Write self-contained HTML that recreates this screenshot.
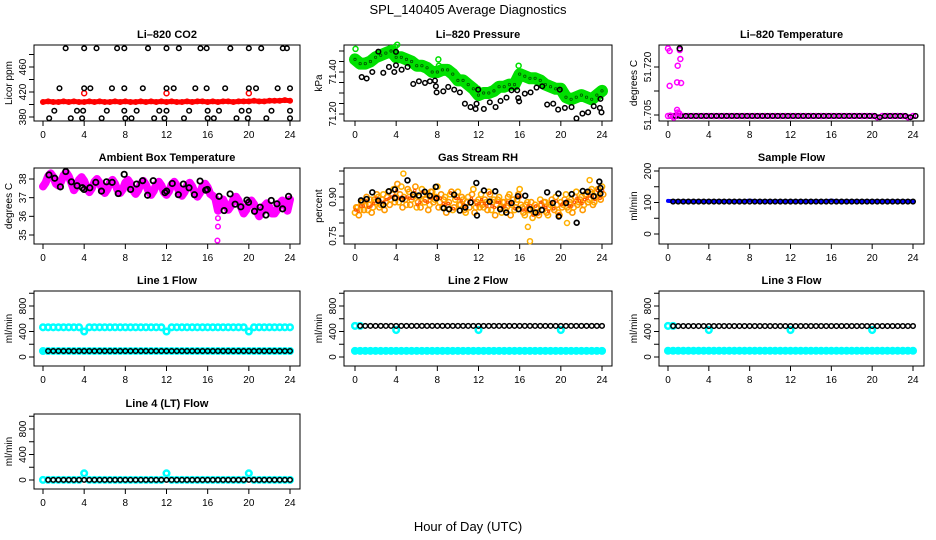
<!DOCTYPE html>
<html><head><meta charset="utf-8"><style>
html,body{margin:0;padding:0;background:#fff;}
svg{display:block;font-family:"Liberation Sans",sans-serif;}
</style></head><body>
<svg id="chart" width="936" height="540" viewBox="0 0 936 540" xmlns="http://www.w3.org/2000/svg">
<text x="468" y="14" text-anchor="middle" font-size="13">SPL_140405  Average Diagnostics</text>
<text x="468" y="531" text-anchor="middle" font-size="13">Hour of Day (UTC)</text>
</svg>
<script>
// ---------- data ----------
const xTicks=[0,4,8,12,16,20,24];
// CO2
const co2Hours=[2.2,4.0,5.2,7.2,7.9,10.2,12.0,13.2,15.3,15.9,18.2,20.0,21.2,23.3,23.7,
1.6,4.0,4.6,6.7,7.9,9.7,12.0,12.7,14.8,15.9,17.7,20.0,20.7,22.8,24.0,
1.1,3.3,3.9,6.2,7.9,9.1,11.3,12.0,14.2,16.0,17.1,19.3,20.0,22.2,24.0,
0.6,2.7,3.8,5.7,8.0,8.6,10.8,11.8,13.7,16.0,16.6,18.8,19.9,21.7,24.0];
const co2Black=[490,490,490,490,490,490,490,490,490,490,490,490,490,490,490,
426,426,426,426,426,426,426,426,426,426,426,426,426,426,426,
390,390,390,390,390,390,390,390,390,390,390,390,390,390,390,
378,378,378,378,378,378,378,378,378,378,378,378,378,378,378];
const co2Red=[404,405,404,404,405,404,405,404,404,405,404,405,404,404,405,404,405,404,404,405,404,405,404,405,404,405,404,404,405,404,405,405,404,405,404,405,405,404,405,405,405,406,405,405,406,406,406,407,406];
const co2RedOutHours=[4,12,20];
const co2RedOut=[418,418,418];
const co2Ticks=[380,400,420,440,460,480];
const co2Labels=["380","420","460"];
// Pressure
const presGreen=[71.46,71.44,71.44,71.45,71.47,71.48,71.49,71.50,71.47,71.47,71.46,71.45,71.43,71.43,71.42,71.40,71.40,71.41,71.41,71.39,71.36,71.36,71.34,71.32,71.29,71.30,71.30,71.31,71.33,71.33,71.34,71.34,71.39,71.38,71.37,71.37,71.36,71.34,71.33,71.32,71.32,71.28,71.27,71.28,71.29,71.28,71.27,71.29,71.31];
const presOutHours=[0.05,3.9,4.1,8.1,8.15,11.95,15.9];
const presOut=[71.51,71.52,71.53,71.46,71.43,71.32,71.43];
const presBlackHours=[0.65,1.13,1.68,2.27,2.75,3.3,3.82,3.98,3.98,4.53,5.11,5.66,6.21,6.8,7.28,7.77,7.86,7.93,8.58,9.06,9.64,10.19,10.68,11.23,11.72,11.81,11.97,12.52,13.1,13.66,14.14,14.72,15.21,15.76,15.86,15.95,16.5,17.06,17.64,18.19,18.67,19.26,19.74,19.9,20.39,21.04,21.52,22.1,22.65,23.2,23.79,23.85,23.95];
const presBlack=[71.376,71.369,71.400,71.497,71.396,71.424,71.400,71.496,71.432,71.411,71.424,71.343,71.356,71.348,71.356,71.359,71.332,71.303,71.308,71.329,71.316,71.303,71.249,71.233,71.224,71.249,71.316,71.224,71.256,71.233,71.262,71.278,71.313,71.313,71.276,71.260,71.297,71.303,71.326,71.332,71.245,71.249,71.221,71.316,71.229,71.233,71.179,71.202,71.208,71.237,71.229,71.272,71.208];
const presTicks=[71.20,71.25,71.30,71.35,71.40,71.45,71.50];
const presLabels=["71.20","71.40"];
// Li-820 temperature
const ltBase=[51.7047,51.7047,51.7047,51.7047,51.7047,51.7047,51.7047,51.7047,51.7047,51.7047,51.7047,51.7047,51.7047,51.7047,51.7047,51.7047,51.7047,51.7047,51.7047,51.7047,51.7047,51.7047,51.7047,51.7047,51.7047,51.7047,51.7047,51.7047,51.7047,51.7047,51.7047,51.7047,51.7047,51.7047,51.7047,51.7047,51.7047,51.7047,51.7047,51.7047,51.7047,51.7043,51.7047,51.7047,51.7047,51.7047,51.7047,51.7043,51.7047];
const ltMagHours=[0,0.16,0.16,0.89,0.95,1.15,1.21,1.28,0.89,0.23,0.56,0.95,1.1];
const ltMag=[51.7258,51.725,51.7141,51.7152,51.7204,51.7253,51.7225,51.715,51.7066,51.7048,51.7042,51.7058,51.7055];
const ltTicks=[51.705,51.7125,51.720];
const ltLabels=["51.705","51.720"];
// Ambient box temperature
const ambMag=[37.60,37.80,38.15,38.30,38.10,37.75, 37.65,37.85,38.20,38.35,38.15,37.80, 37.40,37.60,37.95,38.10,37.90,37.55, 37.30,37.50,37.85,38.00,37.80,37.45, 37.25,37.45,37.80,37.95,37.75,37.40, 37.25,37.45,37.80,37.95,37.75,37.40, 37.20,37.40,37.75,37.90,37.70,37.35, 37.15,37.35,37.70,37.85,37.65,37.30, 37.15,37.35,37.70,37.85,37.65,37.30, 37.10,37.30,37.65,37.80,37.60,37.25, 37.05,37.25,37.60,37.75,37.55,37.20, 37.10,36.95,36.30,36.60,36.90,36.60, 36.35,36.55,36.90,37.05,36.85,36.50, 36.15,36.35,36.70,36.85,36.65,36.30, 36.00,36.20,36.55,36.70,36.50,36.15, 36.15,36.35,36.70,36.85,36.65,36.30, 36.90];
const ambOutHours=[17.0,17.0,16.95];
const ambOut=[35.9,35.45,34.7];
const ambBlackHours=[0.58,1.14,1.69,2.21,2.76,3.31,3.83,3.99,4.55,5.13,5.68,6.17,6.72,7.31,7.89,8.51,9.09,9.68,10.16,10.71,11.85,12.01,12.56,13.15,13.64,14.19,14.71,15.26,15.81,15.97,17.11,17.6,18.18,18.67,19.22,19.81,19.97,20.55,21.1,21.66,22.18,22.73,23.28,23.86];
const ambBlack=[38.22,38.04,37.58,38.4,37.85,37.64,37.53,37.44,37.53,37.82,37.35,37.85,37.82,37.22,38.25,37.44,37.73,37.91,37.13,37.91,37.27,37.35,37.76,37.16,37.73,37.53,37.16,37.89,37.4,37.44,37.07,36.31,37.2,36.65,36.51,36.87,36.75,36.27,36.49,36.07,36.85,36.67,36.4,37.07];
const ambTicks=[35,36,37,38];
const ambLabels=["35","36","37","38"];
// Gas stream RH
const rhA=[.84,.86,.85,.88,.87,.85,.89,.86,.88, .90,.87,.91,.88,.92,.89,.93,.90, .88,.94,.90,.87,.92,.89,.91,.86, .90,.93,.88,.91,.87,.92,.89,.94, .88,.86,.90,.87,.91,.85,.89,.92, .87,.89,.84,.90,.88,.93,.86,.89, .91,.86,.88,.92,.85,.89,.87,.90, .84,.88,.86,.91,.87,.85,.89,.93, .86,.83,.88,.85,.82,.87,.84,.89, .85,.88,.83,.87,.86,.90,.84,.88, .87,.91,.85,.89,.86,.92,.88,.90, .87,.91,.89,.93,.88,.92,.90,.94];
const rhB=[.86,.83,.88,.85,.90,.87,.84,.89,.91, .86,.89,.85,.90,.87,.91,.88,.95, .91,.86,.89,.93,.87,.90,.94,.88, .86,.91,.89,.85,.92,.88,.90,.86, .91,.89,.84,.88,.92,.86,.90,.87, .90,.85,.88,.86,.91,.84,.88,.86, .87,.89,.85,.91,.88,.83,.89,.86, .88,.85,.90,.83,.89,.86,.91,.87, .84,.87,.85,.88,.84,.86,.83,.87, .88,.84,.86,.89,.85,.87,.83,.86, .89,.86,.88,.84,.90,.87,.89,.85, .91,.88,.92,.87,.90,.93,.89,.91];
const rhOutHours=[4.7,17.0,16.8,20.6,22.8];
const rhOut=[0.99,0.73,0.785,0.80,0.965];
const rhBlackHours=[0.58,1.13,1.68,2.26,2.75,3.29,3.88,3.88,4.59,5.10,5.65,6.2,6.78,7.27,7.85,7.91,8.62,9.14,9.63,10.18,10.72,11.24,11.79,11.85,12.53,13.08,13.63,14.11,14.7,15.21,15.83,15.89,16.54,17.02,17.54,18.15,18.67,19.22,19.77,19.8,20.51,21.06,21.54,22.13,22.61,23.19,23.74,23.84,23.84];
const rhBlack=[0.887,0.892,0.918,0.886,0.870,0.922,0.929,0.896,0.892,0.964,0.909,0.906,0.920,0.905,0.939,0.895,0.857,0.853,0.909,0.848,0.860,0.879,0.954,0.829,0.925,0.882,0.922,0.853,0.840,0.877,0.903,0.853,0.905,0.853,0.840,0.850,0.918,0.877,0.913,0.825,0.877,0.911,0.801,0.923,0.920,0.903,0.959,0.935,0.913];
const rhTicks=[0.75,0.80,0.85,0.90,0.95,1.00];
const rhLabels=["0.75","0.90"];
// Sample flow
const sfBlue=[105,104,104,104,104,104,104,104,104,104,104,104,104,104,104,104,106,104,104,104,104,104,104,104,104,104,104,104,104,104,104,104,106,104,104,104,104,104,104,104,104,104,104,104,104,104,104,104,104];
const sfBlack=[null,103,103,103,103,103,103,103,103,103,103,103,103,103,103,103,103,103,103,103,103,103,103,103,103,103,103,103,103,103,103,103,103,103,103,103,103,103,103,103,103,103,103,103,103,103,103,103,103];
const sfTicks=[0,50,100,150,200];
const sfLabels=["0","100","200"];
// Line flows
const l1CyanHi=[466,466,466,466,466,466,466,466,400,466,466,466,466,466,466,466,466,466,466,466,466,466,466,466,400,466,466,466,466,466,466,466,466,466,466,466,466,466,466,466,400,466,466,466,466,466,466,466,466];
const l1CyanLo=[94,94,94,94,94,94,94,94,94,94,94,94,94,94,94,94,94,94,94,94,94,94,94,94,94,94,94,94,94,94,94,94,94,94,94,94,94,94,94,94,94,94,94,94,94,94,94,94,94];
const l1Black=[null,94,94,94,94,94,94,94,94,94,94,94,94,94,94,94,94,94,94,94,94,94,94,94,94,94,94,94,94,94,94,94,94,94,94,94,94,94,94,94,94,94,94,94,94,94,94,94,94];
const l2CyanHi=[488,488,null,null,null,null,null,null,423,null,null,null,null,null,null,null,null,null,null,null,null,null,null,null,423,null,null,null,null,null,null,null,null,null,null,null,null,null,null,null,423,null,null,null,null,null,null,null,null];
const l2CyanLo=[96,96,96,96,96,96,96,96,96,96,96,96,96,96,96,96,96,96,96,96,96,96,96,96,96,96,96,96,96,96,96,96,96,96,96,96,96,96,96,96,96,96,96,96,96,96,96,96,96];
const l2Black=[null,488,488,488,488,488,488,488,488,488,488,488,488,488,488,488,488,488,488,488,488,488,488,488,488,488,488,488,488,488,488,488,488,488,488,488,488,488,488,488,488,488,488,488,488,488,488,488,488];
const l3CyanHi=[488,488,null,null,null,null,null,null,423,null,null,null,null,null,null,null,null,null,null,null,null,null,null,null,423,null,null,null,null,null,null,null,null,null,null,null,null,null,null,null,423,null,null,null,null,null,null,null,null];
const l3CyanLo=[98,98,98,98,98,98,98,98,98,98,98,98,98,98,98,98,98,98,98,98,98,98,98,98,98,98,98,98,98,98,98,98,98,98,98,98,98,98,98,98,98,98,98,98,98,98,98,98,98];
const l3Black=[null,486,486,486,486,486,486,486,486,486,486,486,486,486,486,486,486,486,486,486,486,486,486,486,486,486,486,486,486,486,486,486,486,486,486,486,486,486,486,486,486,486,486,486,486,486,486,486,486];
const l4Cyan=[2,2,2,2,2,2,2,2,105,2,2,2,2,2,2,2,2,2,2,2,2,2,2,2,105,2,2,2,2,2,2,2,2,2,2,2,2,2,2,2,105,2,2,2,2,2,2,2,2];
const l4Black=[null,2,2,2,2,2,2,2,2,2,2,2,2,2,2,2,2,2,2,2,2,2,2,2,2,2,2,2,2,2,2,2,2,2,2,2,2,2,2,2,2,2,2,2,2,2,2,2,2];
const flowTicks=[0,200,400,600,800,1000];
const flowLabels=["0","400","800"];

// ---------- drawing ----------
const svg=document.getElementById('chart');
const NS='http://www.w3.org/2000/svg';
function mk(tag,attrs,parent){const e=document.createElementNS(NS,tag);for(const k in attrs)e.setAttribute(k,attrs[k]);(parent||svg).appendChild(e);return e;}
function lin(v0,p0,v1,p1){return v=>p0+(v-v0)*(p1-p0)/(v1-v0);}
const cols=[{l:34,r:300,x0:43,x24:290},{l:344,r:612,x0:355,x24:602},{l:659,r:924,x0:668,x24:913}];
const rows=[{t:45,b:121},{t:168,b:244},{t:291,b:366},{t:414,b:489}];

function panel(name,title,ytitle,c,r,ys,ticks,labels){
  const C=cols[c],R=rows[r];
  const g=mk('g',{});
  
  
  const xs=lin(0,C.x0,24,C.x24);
  const box=mk('rect',{x:C.l,y:R.t,width:C.r-C.l,height:R.b-R.t,fill:'none',stroke:'#000','stroke-width':1},g);
  
  
  const t=mk('text',{x:(C.l+C.r)/2,y:R.t-7,'text-anchor':'middle','font-size':11,'font-weight':'bold'},g);
  t.textContent=title;
  
  
  const xa=mk('g',{},g);
  
  
  xTicks.forEach(v=>{const x=xs(v);mk('line',{x1:x,x2:x,y1:R.b,y2:R.b+5,stroke:'#000'},xa);
    const tx=mk('text',{x:x,y:R.b+17,'text-anchor':'middle','font-size':10},xa);tx.textContent=String(v);
    
    });
  const ya=mk('g',{},g);
  
  
  const p1=ys(ticks[0]),p2=ys(ticks[ticks.length-1]);
  mk('line',{x1:C.l,x2:C.l,y1:Math.max(p1,p2),y2:Math.min(p1,p2),stroke:'#000'},ya);
  ticks.forEach(v=>{const y=ys(v);mk('line',{x1:C.l-5,x2:C.l,y1:y,y2:y,stroke:'#000'},ya);
    const lab=labels.find(s=>Math.abs(parseFloat(s)-v)<1e-9);
    if(lab){const tx=mk('text',{x:C.l-8,y:y,'text-anchor':'middle','font-size':10,transform:'rotate(-90 '+(C.l-8)+' '+y+')'},ya);tx.textContent=lab;
      
      }});
  const yt=mk('text',{x:C.l-22,y:(R.t+R.b)/2,'text-anchor':'middle','font-size':10,transform:'rotate(-90 '+(C.l-22)+' '+((R.t+R.b)/2)+')'},g);
  yt.textContent=ytitle;
  
  
  return {g,xs,ys};
}
function pts(P,hours,vals,color,rad,sw,name){
  const g=mk('g',{fill:'none',stroke:color,'stroke-width':sw},P.g);
  
  
  vals.forEach((v,i)=>{if(v===null)return;const c=mk('circle',{cx:P.xs(hours[i]),cy:P.ys(v),r:rad},g);
    
    });
}
function idxHours(vals,step){return vals.map((v,i)=>i*step);}
function band(P,hours,vals,color,w,name){
  const d=vals.map((v,i)=>(i?'L':'M')+P.xs(hours[i]).toFixed(1)+' '+P.ys(v).toFixed(1)).join(' ');
  const p=mk('path',{d:d,fill:'none',stroke:color,'stroke-width':w,'stroke-linejoin':'round','stroke-linecap':'round'},P.g);
  
  
}

// CO2
let P=panel('panel-co2','Li\u2013820 CO2','Licor ppm',0,0,lin(380,117,460,67),co2Ticks,co2Labels);
band(P,idxHours(co2Red,0.5),co2Red,'#ff0000',5,'co2-red-band');
pts(P,idxHours(co2Red,0.5),co2Red,'#ff0000',2.3,1.5,'co2-red-series');
pts(P,co2RedOutHours,co2RedOut,'#ff0000',2.5,1.5,'co2-red-outliers');
pts(P,co2Hours,co2Black,'#000',2.3,1.5,'co2-black-series');
// Pressure
P=panel('panel-pressure','Li\u2013820 Pressure','kPa',1,0,lin(71.20,114,71.40,72),presTicks,presLabels);
band(P,idxHours(presGreen,0.5),presGreen,'#00e000',12,'pressure-green-band');
pts(P,idxHours(presGreen,0.5),presGreen,'#005500',1.2,0.8,'pressure-green-texture');
pts(P,presOutHours,presOut,'#00e000',2.5,1.5,'pressure-green-outliers');
pts(P,presBlackHours,presBlack,'#000',2.3,1.5,'pressure-black-series');
// Li temp
P=panel('panel-li820-temp','Li\u2013820 Temperature','degrees C',2,0,lin(51.705,115,51.720,67),ltTicks,ltLabels);
pts(P,idxHours(ltBase,0.5),ltBase,'#ff00ff',2.5,1.5,'li820-temp-magenta');
pts(P,idxHours(ltBase,0.5).map(h=>h+0.25),ltBase,'#000',2.3,1.5,'li820-temp-black');
pts(P,ltMagHours,ltMag,'#ff00ff',2.5,1.5,'li820-temp-outliers');
pts(P,[1.15],[51.7258],'#000',2.5,1.5,'li820-temp-black-outlier');
// Ambient
P=panel('panel-ambient-temp','Ambient Box Temperature','degrees C',0,1,lin(35,235,38,179),ambTicks,ambLabels);
band(P,idxHours(ambMag,0.25),ambMag,'#ff00ff',8,'ambient-magenta-band');
pts(P,ambOutHours,ambOut,'#ff00ff',2.3,1.5,'ambient-outliers');
pts(P,ambBlackHours,ambBlack,'#000',2.7,1.8,'ambient-black-series');
// RH
P=panel('panel-rh','Gas Stream RH','percent',1,1,lin(0.75,236,0.90,197),rhTicks,rhLabels);
pts(P,idxHours(rhA,0.25),rhA,'#ffb000',2.6,1.6,'rh-yellow-a');
pts(P,idxHours(rhB,0.25).map(h=>h+0.12),rhB,'#ff9900',2.6,1.6,'rh-yellow-b');
pts(P,idxHours(rhA,0.25).map(h=>h+0.06),rhA.map((v,i)=>(v+rhB[i])/2),'#ff5000',1.2,1,'rh-red-texture');
pts(P,rhOutHours,rhOut,'#ffb000',2.5,1.5,'rh-outliers');
pts(P,rhBlackHours,rhBlack,'#000',2.4,1.7,'rh-black-series');
// Sample flow
P=panel('panel-sample-flow','Sample Flow','ml/min',2,1,lin(0,234,200,171),sfTicks,sfLabels);
band(P,idxHours(sfBlue,0.5),sfBlue,'#0000ff',4,'sample-flow-blue-band');
pts(P,idxHours(sfBlack,0.5),sfBlack,'#000',2.3,1.5,'sample-flow-black');
// Line flows
function flowPanel(name,title,c,r,zeroPx,hi,lo,blk){
  const P=panel(name,title,'ml/min',c,r,lin(0,zeroPx,800,zeroPx-51),flowTicks,flowLabels);
  band(P,idxHours(lo,0.5),lo,'#00ffff',6,name+'-cyan-low-band');
  pts(P,idxHours(lo,0.5),lo,'#00ffff',2.8,2.5,name+'-cyan-low');
  if(hi){pts(P,idxHours(hi,0.5),hi,'#00ffff',2.8,2.5,name+'-cyan-high');}
  pts(P,idxHours(blk,0.5),blk,'#000',2.3,1.5,name+'-black');
  return P;
}
flowPanel('panel-line1-flow','Line 1 Flow',0,2,357,l1CyanHi,l1CyanLo,l1Black);
flowPanel('panel-line2-flow','Line 2 Flow',1,2,357,l2CyanHi,l2CyanLo,l2Black);
flowPanel('panel-line3-flow','Line 3 Flow',2,2,357,l3CyanHi,l3CyanLo,l3Black);
P=panel('panel-line4-flow','Line 4 (LT) Flow','ml/min',0,3,lin(0,480,800,429),flowTicks,flowLabels);
pts(P,idxHours(l4Cyan,0.5),l4Cyan,'#00ffff',2.8,2.5,'line4-cyan');
pts(P,idxHours(l4Black,0.5),l4Black,'#000',2.3,1.5,'line4-black');
</script>
</body></html>
